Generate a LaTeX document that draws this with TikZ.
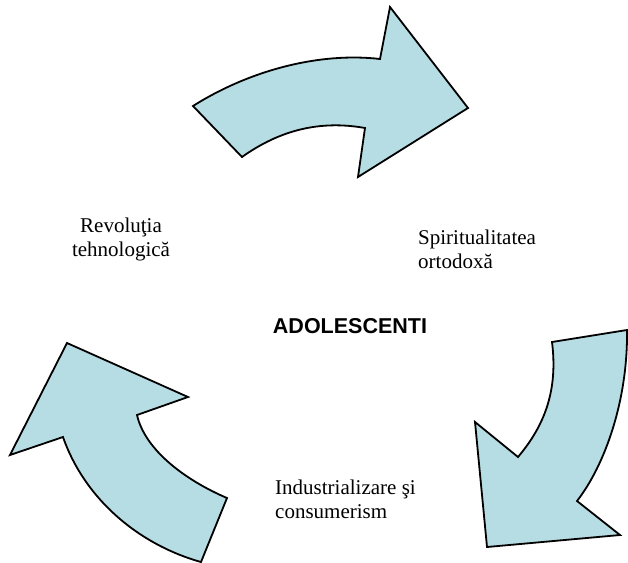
\documentclass[tikz,border=0pt]{standalone}
\usepackage{fontspec}
\setmainfont{Liberation Serif}
\newfontfamily\headfont{Liberation Sans}
\definecolor{arrowfill}{RGB}{182,221,227}
\begin{document}
\begin{tikzpicture}[x=1pt,y=-1pt,
  bigarrow/.style={fill=arrowfill,draw=black,line width=1.8pt,line join=miter},
  label/.style={inner sep=0pt,font=\fontsize{21}{24}\selectfont},
  centre/.style={inner sep=0pt,font=\headfont\bfseries\fontsize{21.5}{24}\selectfont}]
\useasboundingbox (0,0) rectangle (628,562);
\fill[white] (0,0) rectangle (628,562);
% top arrow
\draw[bigarrow] (193,106) .. controls (250,70) and (320,52) .. (380,59)
  -- (390,7) -- (468,108) -- (358,177) -- (365,128)
  .. controls (320,120) and (280,130) .. (242,157) -- cycle;
% right arrow
\draw[bigarrow] (552,342) -- (627,330)
  .. controls (628,400) and (605,465) .. (577,501)
  -- (620,535) -- (487,547) -- (475,422) -- (518,457)
  .. controls (545,425) and (558,390) .. (552,342) -- cycle;
% left arrow
\draw[bigarrow] (67,343) -- (188,397) -- (137,415)
  .. controls (145,450) and (185,480) .. (227,498)
  -- (201,562)
  .. controls (140,545) and (85,500) .. (63,437)
  -- (10,455) -- cycle;
% texts (base anchor = baseline of the last line)
\node[label,anchor=base,align=center] (rev) at (121,256) {Revoluţia\\tehnologică};
\node[label,anchor=base west,align=left] (spi) at (418,268) {Spiritualitatea\\ortodoxă};
\node[label,anchor=base west,align=left] (ind) at (275,518) {Industrializare şi\\consumerism};
\node[centre,anchor=base] (ado) at (350,333) {ADOLESCENTI};
\end{tikzpicture}
\end{document}
